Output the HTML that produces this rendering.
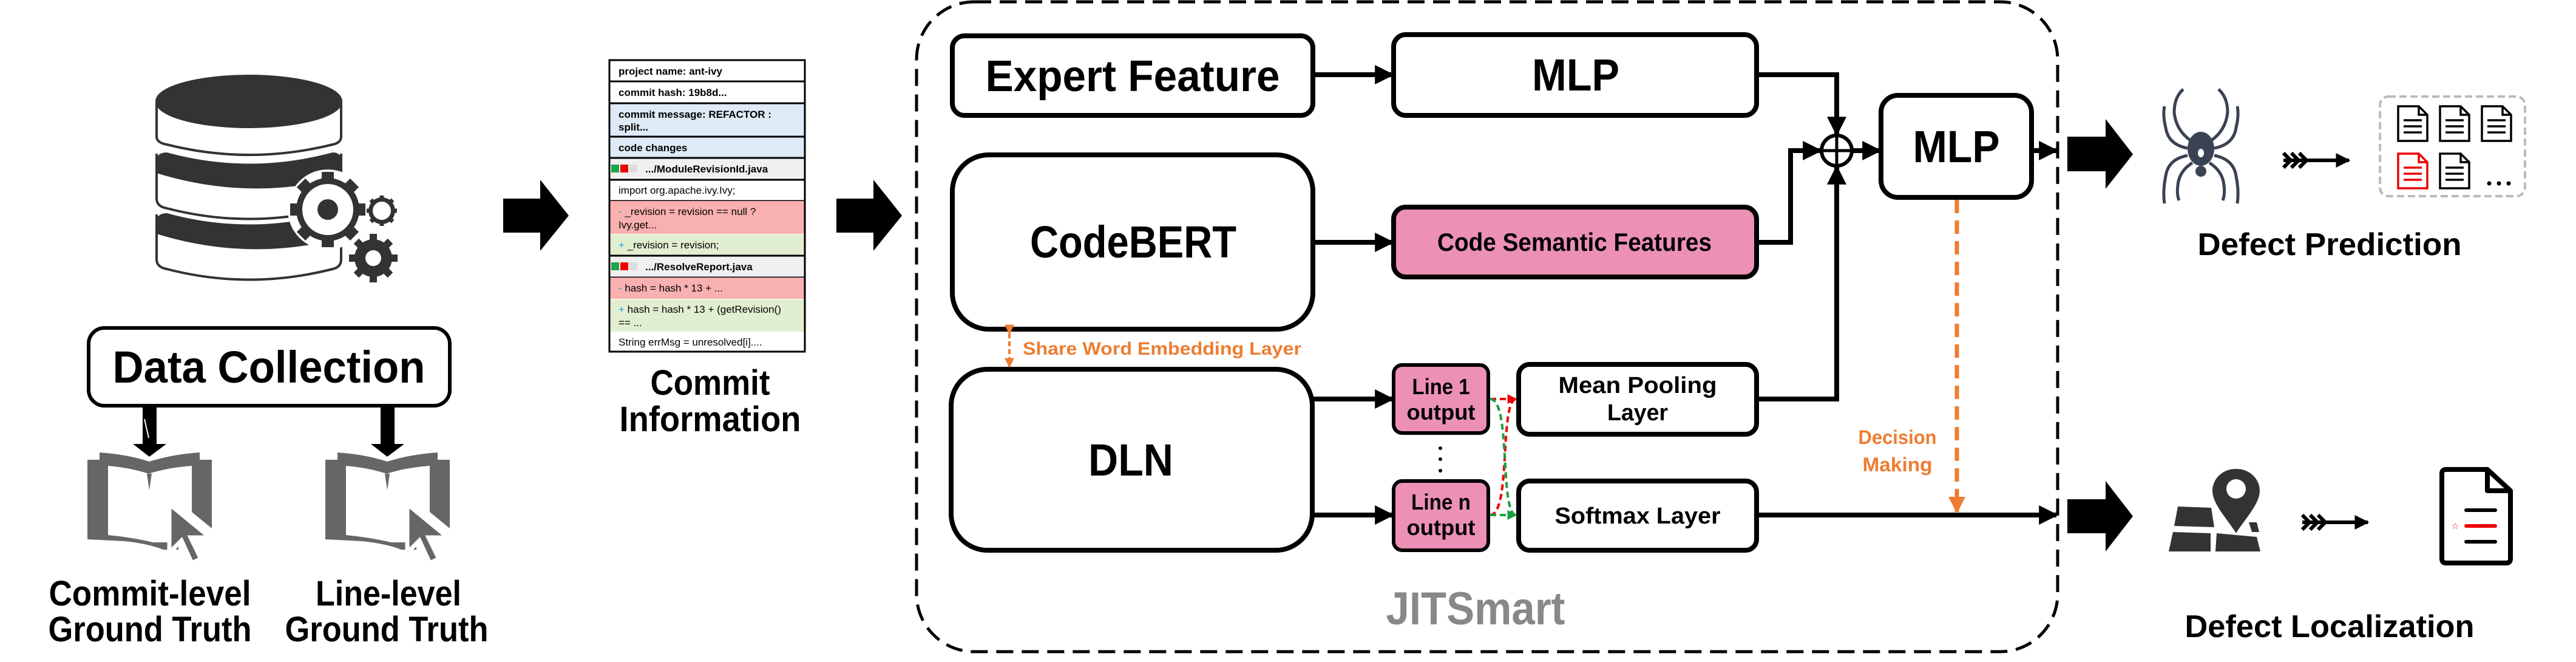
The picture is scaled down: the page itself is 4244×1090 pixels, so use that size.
<!DOCTYPE html>
<html><head><meta charset="utf-8"><style>html,body{margin:0;padding:0;background:#fff}svg{display:block}</style></head>
<body>
<svg width="4244" height="1090" viewBox="0 0 4244 1090" xmlns="http://www.w3.org/2000/svg" font-family="'Liberation Sans', sans-serif">
<defs>
<marker id="ah" viewBox="0 0 10 10" refX="9" refY="5" markerWidth="4" markerHeight="4" orient="auto" markerUnits="strokeWidth"><path d="M0,0 L10,5 L0,10 z" fill="#000"/></marker>
<marker id="ahr" viewBox="0 0 10 10" refX="9" refY="5" markerWidth="4" markerHeight="4" orient="auto" markerUnits="strokeWidth"><path d="M0,0 L10,5 L0,10 z" fill="#e00"/></marker>
<marker id="ahg" viewBox="0 0 10 10" refX="9" refY="5" markerWidth="4" markerHeight="4" orient="auto" markerUnits="strokeWidth"><path d="M0,0 L10,5 L0,10 z" fill="#1a9f3f"/></marker>
<marker id="aho" viewBox="0 0 10 10" refX="9" refY="5" markerWidth="4" markerHeight="4" orient="auto" markerUnits="strokeWidth"><path d="M0,0 L10,5 L0,10 z" fill="#ed7d31"/></marker>
</defs>

<!-- Database icon -->
<g stroke="#333" stroke-width="4" fill="#fff">
  <path d="M258,353 L258,427 Q258,440 275,443 Q410,478 548,443 Q562,440 562,427 L562,353"/>
  <path d="M258,370 Q258,353 275,353 Q410,390 548,353 Q562,353 562,370 L562,390 Q410,430 258,383 Z" fill="#333"/>
  <path d="M258,253 L258,327 Q258,340 275,343 Q410,378 548,343 Q562,340 562,327 L562,253"/>
  <path d="M258,270 Q258,253 275,253 Q410,290 548,253 Q562,253 562,270 L562,290 Q410,330 258,283 Z" fill="#333"/>
  <path d="M258,167 L258,225 Q258,235 275,238 Q410,272 548,238 Q562,235 562,225 L562,167"/>
  <ellipse cx="410" cy="167" rx="152" ry="42" fill="#333"/>
</g>
<!-- gears -->
<g fill="#333">
  <circle cx="540" cy="345" r="66" fill="#fff"/>
  <g stroke="#333" stroke-width="20">
    <line x1="540" y1="283" x2="540" y2="407"/><line x1="478" y1="345" x2="602" y2="345"/>
    <line x1="496" y1="301" x2="584" y2="389"/><line x1="496" y1="389" x2="584" y2="301"/>
  </g>
  <circle cx="540" cy="345" r="52"/>
  <circle cx="540" cy="345" r="42" fill="#fff"/>
  <circle cx="540" cy="345" r="17"/>
  <g stroke="#333" stroke-width="7">
    <line x1="629" y1="322" x2="629" y2="372"/><line x1="604" y1="347" x2="654" y2="347"/>
    <line x1="611" y1="329" x2="647" y2="365"/><line x1="611" y1="365" x2="647" y2="329"/>
  </g>
  <circle cx="629" cy="347" r="22"/>
  <circle cx="629" cy="347" r="15" fill="#fff"/>
  <g stroke="#333" stroke-width="12">
    <line x1="615" y1="385" x2="615" y2="465"/><line x1="575" y1="425" x2="655" y2="425"/>
    <line x1="587" y1="397" x2="643" y2="453"/><line x1="587" y1="453" x2="643" y2="397"/>
  </g>
  <circle cx="615" cy="425" r="31"/>
  <circle cx="615" cy="425" r="13" fill="#fff"/>
</g>

<!-- Data Collection -->
<rect x="146" y="540" width="595" height="128" rx="26" fill="#fff" stroke="#000" stroke-width="6"/>
<text x="443" y="630" font-size="74" font-weight="bold" text-anchor="middle" textLength="515" lengthAdjust="spacingAndGlyphs">Data Collection</text>
<g fill="#000">
  <polygon points="235,670 258,670 258,731 274,731 246,752 219,731 235,731"/>
  <polygon points="627,670 650,670 650,731 666,731 638,752 611,731 627,731"/>
</g>
<line x1="238" y1="690" x2="245" y2="721" stroke="#fff" stroke-width="2"/>

<!-- Books -->
<g id="book1" transform="translate(144,745)">
  <path d="M0,12 H20 V0 Q65,3 102,15 Q140,3 185,0 V12 H205 V125 L150,80 L150,160 L125,160 Q100,150 60,146 L0,143 Z" fill="#666"/>
  <path d="M34,22 Q70,25 101,35 Q132,25 172,22 L172,100 L150,82 L150,148 L108,148 Q75,140 34,136 Z" fill="#fff"/>
  <polygon points="98,35 106,35 102,62" fill="#666"/>
  <polygon points="135,85 135,165 155,145 172,182 187,175 170,140 202,140" fill="#666" stroke="#fff" stroke-width="7" stroke-linejoin="miter"/>
</g>
<g transform="translate(536,745)">
  <path d="M0,12 H20 V0 Q65,3 102,15 Q140,3 185,0 V12 H205 V125 L150,80 L150,160 L125,160 Q100,150 60,146 L0,143 Z" fill="#666"/>
  <path d="M34,22 Q70,25 101,35 Q132,25 172,22 L172,100 L150,82 L150,148 L108,148 Q75,140 34,136 Z" fill="#fff"/>
  <polygon points="98,35 106,35 102,62" fill="#666"/>
  <polygon points="135,85 135,165 155,145 172,182 187,175 170,140 202,140" fill="#666" stroke="#fff" stroke-width="7"/>
</g>
<g font-size="58" font-weight="bold" text-anchor="middle">
  <text x="247" y="997" textLength="333" lengthAdjust="spacingAndGlyphs">Commit-level</text>
  <text x="247" y="1056" textLength="335" lengthAdjust="spacingAndGlyphs">Ground Truth</text>
  <text x="640" y="997" textLength="240" lengthAdjust="spacingAndGlyphs">Line-level</text>
  <text x="637" y="1056" textLength="335" lengthAdjust="spacingAndGlyphs">Ground Truth</text>
</g>

<!-- Big arrows -->
<polygon points="829,327 890,327 890,296 937,355 890,413 890,383 829,383" fill="#000"/>
<polygon points="1378,327 1439,327 1439,296 1486,355 1439,413 1439,383 1378,383" fill="#000"/>

<!-- Commit table -->
<g stroke="#000" stroke-width="3">
  <rect x="1004" y="99" width="322" height="35" fill="#fff"/>
  <rect x="1004" y="134" width="322" height="36" fill="#fff"/>
  <rect x="1004" y="170" width="322" height="55" fill="#deeaf6"/>
  <rect x="1004" y="225" width="322" height="35" fill="#deeaf6"/>
  <rect x="1004" y="260" width="322" height="36" fill="#f0f0f0"/>
  <rect x="1004" y="296" width="322" height="35" fill="#fff"/>
  <rect x="1004" y="331" width="322" height="54" fill="#f9b0b0" stroke="none"/>
  <rect x="1004" y="386" width="322" height="35" fill="#e1efd0" stroke="none"/>
  <rect x="1004" y="421" width="322" height="36" fill="#f0f0f0"/>
  <rect x="1004" y="457" width="322" height="35" fill="#f9b0b0" stroke="none"/>
  <rect x="1004" y="493" width="322" height="53" fill="#e1efd0" stroke="none"/>
  <rect x="1004" y="546" width="322" height="33" fill="#fff" stroke="none"/>
  <rect x="1004" y="99" width="322" height="480" fill="none"/>
</g>
<rect x="1007" y="271" width="13" height="13" fill="#1aa64a"/><rect x="1022" y="271" width="13" height="13" fill="#e00"/><rect x="1037" y="271" width="13" height="13" fill="#ddd"/>
<rect x="1007" y="432" width="13" height="13" fill="#1aa64a"/><rect x="1022" y="432" width="13" height="13" fill="#e00"/><rect x="1037" y="432" width="13" height="13" fill="#ddd"/>
<g font-size="17" fill="#000">
  <text x="1019" y="123" font-weight="bold">project name: ant-ivy</text>
  <text x="1019" y="158" font-weight="bold">commit hash: 19b8d...</text>
  <text x="1019" y="194" font-weight="bold">commit message: REFACTOR :</text>
  <text x="1019" y="215" font-weight="bold">split...</text>
  <text x="1019" y="249" font-weight="bold">code changes</text>
  <text x="1063" y="284" font-weight="bold">.../ModuleRevisionId.java</text>
  <text x="1019" y="319">import org.apache.ivy.Ivy;</text>
  <text x="1019" y="354"><tspan fill="#1aa0e0">-</tspan> _revision = revision == null ?</text>
  <text x="1019" y="376">Ivy.get...</text>
  <text x="1019" y="409"><tspan fill="#1aa0e0">+</tspan> _revision = revision;</text>
  <text x="1063" y="445" font-weight="bold">.../ResolveReport.java</text>
  <text x="1019" y="480"><tspan fill="#1aa0e0">-</tspan> hash = hash * 13 + ...</text>
  <text x="1019" y="515"><tspan fill="#1aa0e0">+</tspan> hash = hash * 13 + (getRevision()</text>
  <text x="1019" y="537">== ...</text>
  <text x="1019" y="569">String errMsg = unresolved[i]....</text>
</g>
<g font-size="58" font-weight="bold" text-anchor="middle">
  <text x="1170" y="650" textLength="197" lengthAdjust="spacingAndGlyphs">Commit</text>
  <text x="1170" y="710" textLength="299" lengthAdjust="spacingAndGlyphs">Information</text>
</g>

<!-- JITSmart dashed container -->
<rect x="1510" y="3" width="1880" height="1070" rx="95" fill="none" stroke="#000" stroke-width="5" stroke-dasharray="28,14"/>

<g fill="#fff" stroke="#000" stroke-width="8">
  <rect x="1569" y="59" width="594" height="131" rx="20"/>
  <rect x="2296" y="57" width="598" height="133" rx="20"/>
  <rect x="1569" y="255" width="594" height="287" rx="60"/>
  <rect x="2296" y="341" width="598" height="115" rx="20" fill="#ec90b6"/>
  <rect x="1567" y="608" width="595" height="298" rx="60"/>
  <rect x="2296" y="601" width="156" height="112" rx="14" fill="#ec90b6" stroke-width="6"/>
  <rect x="2296" y="792" width="156" height="114" rx="14" fill="#ec90b6" stroke-width="6"/>
  <rect x="2502" y="600" width="392" height="115" rx="18"/>
  <rect x="2502" y="792" width="392" height="114" rx="18"/>
  <rect x="3099" y="157" width="248" height="168" rx="28"/>
</g>
<g font-weight="bold" text-anchor="middle">
  <text x="1866" y="150" font-size="72" textLength="485" lengthAdjust="spacingAndGlyphs">Expert Feature</text>
  <text x="2596" y="149" font-size="74" textLength="144" lengthAdjust="spacingAndGlyphs">MLP</text>
  <text x="1867" y="424" font-size="74" textLength="340" lengthAdjust="spacingAndGlyphs">CodeBERT</text>
  <text x="2594" y="413" font-size="42" textLength="452" lengthAdjust="spacingAndGlyphs">Code Semantic Features</text>
  <text x="1863" y="783" font-size="74" textLength="140" lengthAdjust="spacingAndGlyphs">DLN</text>
  <text x="2374" y="649" font-size="36" textLength="95" lengthAdjust="spacingAndGlyphs">Line 1</text>
  <text x="2374" y="691" font-size="36" textLength="113" lengthAdjust="spacingAndGlyphs">output</text>
  <text x="2374" y="839" font-size="36" textLength="98" lengthAdjust="spacingAndGlyphs">Line n</text>
  <text x="2374" y="881" font-size="36" textLength="113" lengthAdjust="spacingAndGlyphs">output</text>
  <text x="2698" y="647" font-size="38" textLength="261" lengthAdjust="spacingAndGlyphs">Mean Pooling</text>
  <text x="2698" y="692" font-size="38" textLength="100" lengthAdjust="spacingAndGlyphs">Layer</text>
  <text x="2698" y="862" font-size="38" textLength="273" lengthAdjust="spacingAndGlyphs">Softmax Layer</text>
  <text x="3223" y="267" font-size="74" textLength="143" lengthAdjust="spacingAndGlyphs">MLP</text>
  <text x="2431" y="1028" font-size="76" fill="#888" textLength="295" lengthAdjust="spacingAndGlyphs">JITSmart</text>
</g>

<!-- connectors -->
<g stroke="#000" stroke-width="8" fill="none">
  <line x1="2163" y1="123" x2="2294" y2="123" marker-end="url(#ah)"/>
  <line x1="2163" y1="399" x2="2294" y2="399" marker-end="url(#ah)"/>
  <line x1="2162" y1="657" x2="2294" y2="657" marker-end="url(#ah)"/>
  <line x1="2162" y1="848" x2="2294" y2="848" marker-end="url(#ah)"/>
  <polyline points="2894,123 3026,123 3026,221" marker-end="url(#ah)"/>
  <polyline points="2894,399 2950,399 2950,248 2999,248" marker-end="url(#ah)"/>
  <polyline points="2894,657 3026,657 3026,275" marker-end="url(#ah)"/>
  <line x1="3052" y1="248" x2="3097" y2="248" marker-end="url(#ah)"/>
  <line x1="3347" y1="248" x2="3388" y2="248" marker-end="url(#ah)"/>
  <line x1="2894" y1="848" x2="3388" y2="848" marker-end="url(#ah)"/>
</g>
<circle cx="3026" cy="248" r="25" fill="#fff" stroke="#000" stroke-width="6"/>
<line x1="3001" y1="248" x2="3051" y2="248" stroke="#000" stroke-width="5"/>
<line x1="3026" y1="223" x2="3026" y2="273" stroke="#000" stroke-width="5"/>

<!-- dots -->
<g fill="#000"><circle cx="2373" cy="738" r="3"/><circle cx="2373" cy="756" r="3"/><circle cx="2373" cy="775" r="3"/></g>

<!-- red/green dashed -->
<g fill="none" stroke-width="4" stroke-dasharray="10,6">
  <line x1="2455" y1="657" x2="2498" y2="657" stroke="#e00" marker-end="url(#ahr)"/>
  <path d="M2455,848 C2490,848 2470,657 2498,657" stroke="#e00"/>
  <path d="M2455,657 C2490,657 2470,848 2498,848" stroke="#1a9f3f" marker-end="url(#ahg)"/>
  <line x1="2455" y1="848" x2="2498" y2="848" stroke="#1a9f3f"/>
</g>

<!-- Share word embedding -->
<line x1="1663" y1="549" x2="1663" y2="604" stroke="#ed7d31" stroke-width="4" stroke-dasharray="8,5" marker-start="url(#aho)" marker-end="url(#aho)"/>
<text x="1685" y="584" font-size="30" font-weight="bold" fill="#ed7d31" textLength="459" lengthAdjust="spacingAndGlyphs">Share Word Embedding Layer</text>

<!-- Decision making -->
<line x1="3224" y1="329" x2="3224" y2="843" stroke="#ed7d31" stroke-width="7" stroke-dasharray="22,12" marker-end="url(#aho)"/>
<g font-size="32" font-weight="bold" fill="#ed7d31" text-anchor="middle">
  <text x="3126" y="731" textLength="129" lengthAdjust="spacingAndGlyphs">Decision</text>
  <text x="3126" y="776" textLength="115" lengthAdjust="spacingAndGlyphs">Making</text>
</g>

<!-- Big arrows right -->
<polygon points="3406,225 3469,225 3469,196 3514,254 3469,311 3469,282 3406,282" fill="#000"/>
<polygon points="3406,822 3469,822 3469,792 3514,850 3469,908 3469,878 3406,878" fill="#000"/>

<!-- Spider -->
<g stroke="#3a4354" stroke-width="5" fill="none">
  <path d="M3610,232 Q3585,215 3582,185 Q3582,160 3597,147"/>
  <path d="M3642,232 Q3667,215 3670,185 Q3670,160 3655,147"/>
  <path d="M3604,244 Q3572,238 3568,210 Q3563,190 3566,175"/>
  <path d="M3648,244 Q3680,238 3684,210 Q3689,190 3686,175"/>
  <path d="M3604,256 Q3572,262 3568,290 Q3563,315 3566,335"/>
  <path d="M3648,256 Q3680,262 3684,290 Q3689,315 3686,335"/>
  <path d="M3612,268 Q3590,282 3588,305 Q3586,320 3590,330"/>
  <path d="M3640,268 Q3662,282 3664,305 Q3666,320 3662,330"/>
</g>
<ellipse cx="3626" cy="245" rx="22" ry="28" fill="#3a4354"/>
<circle cx="3626" cy="282" r="9" fill="#3a4354"/>
<ellipse cx="3626" cy="252" rx="5" ry="7" fill="#fff"/>

<!-- feather arrows -->
<g stroke="#000" stroke-width="6" fill="none">
  <line x1="3762" y1="264" x2="3870" y2="264" marker-end="url(#ah)"/>
  <path d="M3762,252 L3774,264 L3762,276 M3775,252 L3787,264 L3775,276 M3788,252 L3800,264 L3788,276"/>
  <line x1="3793" y1="860" x2="3901" y2="860" marker-end="url(#ah)"/>
  <path d="M3793,848 L3805,860 L3793,872 M3806,848 L3818,860 L3806,872 M3819,848 L3831,860 L3819,872"/>
</g>

<!-- docs box -->
<rect x="3921" y="159" width="239" height="164" rx="14" fill="none" stroke="#bbb" stroke-width="4" stroke-dasharray="12,6"/>
<g fill="#fff" stroke-width="3.5">
  <g stroke="#000"><path d="M3951,175 L3985,175 L3999,189 L3999,232 L3951,232 Z M3985,175 L3985,189 L3999,189"/><path d="M3960,198 H3990 M3960,208 H3990 M3960,218 H3990"/></g>
  <g stroke="#000"><path d="M4020,175 L4054,175 L4068,189 L4068,232 L4020,232 Z M4054,175 L4054,189 L4068,189"/><path d="M4029,198 H4059 M4029,208 H4059 M4029,218 H4059"/></g>
  <g stroke="#000"><path d="M4089,175 L4123,175 L4137,189 L4137,232 L4089,232 Z M4123,175 L4123,189 L4137,189"/><path d="M4098,198 H4128 M4098,208 H4128 M4098,218 H4128"/></g>
  <g stroke="#e00"><path d="M3951,253 L3985,253 L3999,267 L3999,310 L3951,310 Z M3985,253 L3985,267 L3999,267"/><path d="M3960,276 H3990 M3960,286 H3990 M3960,296 H3990"/></g>
  <g stroke="#000"><path d="M4020,253 L4054,253 L4068,267 L4068,310 L4020,310 Z M4054,253 L4054,267 L4068,267"/><path d="M4029,276 H4059 M4029,286 H4059 M4029,296 H4059"/></g>
</g>
<g fill="#000"><circle cx="4101" cy="302" r="3.5"/><circle cx="4117" cy="302" r="3.5"/><circle cx="4133" cy="302" r="3.5"/></g>
<text x="3838" y="420" font-size="52" font-weight="bold" text-anchor="middle" textLength="435" lengthAdjust="spacingAndGlyphs">Defect Prediction</text>

<!-- Map icon -->
<g fill="#333">
  <polygon points="3588,834 3643,836 3648,868 3582,866"/>
  <polygon points="3580,876 3642,878 3642,908 3573,908"/>
  <polygon points="3652,878 3718,884 3724,908 3650,908"/>
  <polygon points="3705,860 3718,860 3722,876 3710,876"/>
  <path d="M3684,772 C3660,772 3645,790 3645,808 C3645,830 3670,855 3684,878 C3698,855 3723,830 3723,808 C3723,790 3708,772 3684,772 Z"/>
</g>
<circle cx="3684" cy="805" r="16" fill="#fff"/>

<!-- doc icon -->
<path d="M4030,773 L4098,773 L4136,808 L4136,920 Q4136,927 4129,927 L4030,927 Q4023,927 4023,920 L4023,780 Q4023,773 4030,773 Z" fill="#fff" stroke="#000" stroke-width="8" stroke-linejoin="round"/>
<path d="M4098,773 L4098,808 L4136,808" fill="none" stroke="#000" stroke-width="8" stroke-linejoin="round"/>
<g stroke-width="6" stroke-linecap="round">
  <line x1="4063" y1="840" x2="4111" y2="840" stroke="#000"/>
  <line x1="4063" y1="866" x2="4111" y2="866" stroke="#e00"/>
  <line x1="4063" y1="892" x2="4111" y2="892" stroke="#000"/>
</g>
<text x="4045" y="871" font-size="14" fill="#e00" text-anchor="middle">☆</text>
<text x="3838" y="1049" font-size="52" font-weight="bold" text-anchor="middle" textLength="477" lengthAdjust="spacingAndGlyphs">Defect Localization</text>
</svg>
</body></html>
